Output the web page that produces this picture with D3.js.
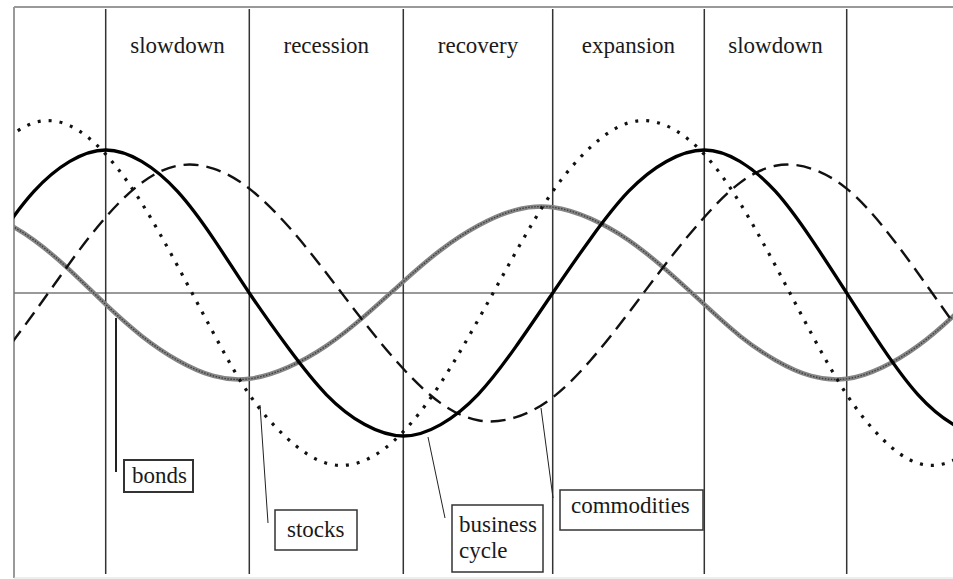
<!DOCTYPE html>
<html>
<head>
<meta charset="utf-8">
<script src="https://d3js.org/d3.v7.min.js"></script>
<style>
  body { margin: 0; background: #fff; }
</style>
</head>
<body>
<div id="chart"></div>
<script>
var svgWidth = 953;
var svgHeight = 579;

// phase of the cycle (one unit = one stage), sampled every quarter stage
var phase = [-1.25, -1, -0.75, -0.5, -0.25, 0, 0.25, 0.5, 0.75, 1, 1.25, 1.5, 1.75, 2, 2.25, 2.5,
  2.75, 3, 3.25, 3.5, 3.75, 4, 4.25, 4.5, 4.75, 5, 5.25, 5.5, 5.75, 6, 6.25];

// series values (zero = horizontal line)
var business = [-0.38, 0, 0.38, 0.71, 0.92, 1, 0.92, 0.71, 0.38, 0, -0.38, -0.71, -0.92, -1, -0.92, -0.71,
  -0.38, 0, 0.38, 0.71, 0.92, 1, 0.92, 0.71, 0.38, 0, -0.38, -0.71, -0.92, -1, -0.92];
var stocks = [0.28, 0.71, 1.02, 1.19, 1.17, 0.97, 0.63, 0.19, -0.28, -0.71, -1.02, -1.19, -1.17, -0.97, -0.63, -0.19,
  0.28, 0.71, 1.02, 1.19, 1.17, 0.97, 0.63, 0.19, -0.28, -0.71, -1.02, -1.19, -1.17, -0.97, -0.63];
var commodities = [-0.87, -0.73, -0.47, -0.14, 0.21, 0.53, 0.77, 0.89, 0.87, 0.73, 0.47, 0.14, -0.21, -0.53, -0.77, -0.89,
  -0.87, -0.73, -0.47, -0.14, 0.21, 0.53, 0.77, 0.89, 0.87, 0.73, 0.47, 0.14, -0.21, -0.53, -0.77];
var bonds = [0.58, 0.60, 0.52, 0.37, 0.16, -0.08, -0.30, -0.47, -0.58, -0.60, -0.52, -0.37, -0.16, 0.08, 0.30, 0.47,
  0.58, 0.60, 0.52, 0.37, 0.16, -0.08, -0.30, -0.47, -0.58, -0.60, -0.52, -0.37, -0.16, 0.08, 0.30];

// stage boundaries and stage names
var boundaries = [0, 1, 2, 3, 4, 5];
var stages = ["slowdown", "recession", "recovery", "expansion", "slowdown"];

// call-out labels
var labelNames = ["bonds", "stocks", "business\ncycle", "commodities"];

var frame = { left: 14, top: 7, right: 953, bottom: 578 };

var svg = d3.select("#chart")
  .append("svg")
  .attr("width", svgWidth)
  .attr("height", svgHeight);

// the scanned stages are not quite even, so map each boundary
var xScale = d3.scaleLinear()
  .domain(boundaries)
  .range([105.7, 249.3, 403.3, 552.7, 704.3, 846.7]);

var yScale = d3.scaleLinear()
  .domain([-2, 2])
  .range([579, 7]);

svg.append("clipPath")
  .attr("id", "clip")
  .append("rect")
  .attr("x", frame.left)
  .attr("y", frame.top)
  .attr("width", frame.right - frame.left)
  .attr("height", frame.bottom - frame.top);

// frame
svg.append("line")
  .attr("x1", frame.left).attr("x2", frame.right)
  .attr("y1", frame.top).attr("y2", frame.top)
  .attr("stroke", "#999").attr("stroke-width", 2);
svg.append("line")
  .attr("x1", frame.left).attr("x2", frame.left)
  .attr("y1", frame.top).attr("y2", frame.bottom)
  .attr("stroke", "#999").attr("stroke-width", 2);
svg.append("line")
  .attr("x1", frame.left).attr("x2", frame.right)
  .attr("y1", frame.bottom).attr("y2", frame.bottom)
  .attr("stroke", "#ddd").attr("stroke-width", 1);

// zero line
svg.append("line")
  .attr("x1", frame.left).attr("x2", frame.right)
  .attr("y1", yScale(0)).attr("y2", yScale(0))
  .attr("stroke", "#777").attr("stroke-width", 1.3);

// stage boundaries
svg.selectAll(".boundary")
  .data(boundaries)
  .enter()
  .append("line")
  .attr("class", "boundary")
  .attr("x1", d => xScale(d)).attr("x2", d => xScale(d))
  .attr("y1", frame.top + 2).attr("y2", frame.bottom - 4)
  .attr("stroke", "#333").attr("stroke-width", 1.5);

// stage names
svg.selectAll(".stage")
  .data(stages)
  .enter()
  .append("text")
  .attr("class", "stage")
  .attr("x", (d, i) => xScale(i + 0.5))
  .attr("y", 53)
  .attr("text-anchor", "middle")
  .attr("font-family", "Liberation Serif")
  .attr("font-size", 23)
  .attr("fill", "#1a1a1a")
  .text(d => d);

var line = d3.line()
  .x(d => xScale(d[0]))
  .y(d => yScale(d[1]))
  .curve(d3.curveNatural);

var curves = svg.append("g").attr("clip-path", "url(#clip)");

function toPoints(values) {
  return phase.map((p, i) => [p, values[i]]);
}

// bonds: grey textured band
curves.append("path")
  .attr("d", line(toPoints(bonds)))
  .attr("fill", "none")
  .attr("stroke", "#858585")
  .attr("stroke-width", 4.5);
curves.append("path")
  .attr("d", line(toPoints(bonds)))
  .attr("fill", "none")
  .attr("stroke", "#3c3c3c")
  .attr("stroke-width", 1.3)
  .attr("stroke-dasharray", "1.5,1.5");

// commodities: dashed
curves.append("path")
  .attr("d", line(toPoints(commodities)))
  .attr("fill", "none")
  .attr("stroke", "#111")
  .attr("stroke-width", 2.4)
  .attr("stroke-dasharray", "15,8");

// stocks: dotted
curves.append("path")
  .attr("d", line(toPoints(stocks)))
  .attr("fill", "none")
  .attr("stroke", "#111")
  .attr("stroke-width", 3.2)
  .attr("stroke-dasharray", "3,8");

// business cycle: thick solid
curves.append("path")
  .attr("d", line(toPoints(business)))
  .attr("fill", "none")
  .attr("stroke", "#000")
  .attr("stroke-width", 3.3);

// call-outs (pixel layout)
var callouts = [
  { lx1: 116, ly1: 318, lx2: 116, ly2: 472, lw: 2, bx: 124, by: 460, bw: 69, bh: 32, bs: 2, tx: 132, ty: [483] },
  { lx1: 260, ly1: 405, lx2: 268, ly2: 523, lw: 1, bx: 275, by: 510, bw: 82, bh: 40, bs: 1.5, tx: 287, ty: [537] },
  { lx1: 428, ly1: 437, lx2: 445, ly2: 518, lw: 1, bx: 452, by: 505, bw: 91, bh: 67, bs: 1.5, tx: 459, ty: [532, 558] },
  { lx1: 541, ly1: 408, lx2: 553, ly2: 498, lw: 1, bx: 560, by: 490, bw: 143, bh: 40, bs: 1.5, tx: 571, ty: [513] }
];

callouts.forEach(function(c, i) {
  svg.append("line")
    .attr("x1", c.lx1).attr("y1", c.ly1)
    .attr("x2", c.lx2).attr("y2", c.ly2)
    .attr("stroke", "#222").attr("stroke-width", c.lw);
  svg.append("rect")
    .attr("x", c.bx).attr("y", c.by)
    .attr("width", c.bw).attr("height", c.bh)
    .attr("fill", "#fff")
    .attr("stroke", "#333").attr("stroke-width", c.bs);
  var parts = labelNames[i].split("\n");
  parts.forEach(function(p, j) {
    svg.append("text")
      .attr("x", c.tx)
      .attr("y", c.ty[j])
      .attr("font-family", "Liberation Serif")
      .attr("font-size", 23)
      .attr("fill", "#1a1a1a")
      .text(p);
  });
});
</script>
</body>
</html>
